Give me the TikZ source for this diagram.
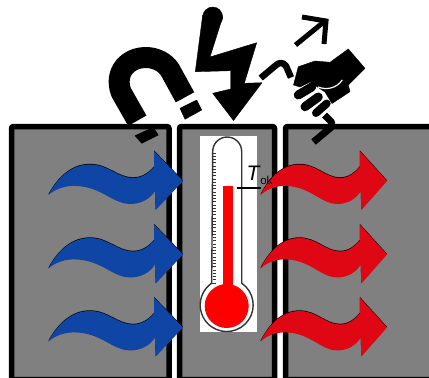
\documentclass[tikz,border=0pt]{standalone}
\usepackage{xcolor}
\usepackage{fontspec}
\setmainfont{Liberation Sans}
\usetikzlibrary{positioning}
\definecolor{panelgray}{HTML}{808080}
\definecolor{coldblue}{HTML}{0F45A5}
\definecolor{hotred}{HTML}{E00714}
\definecolor{meter}{HTML}{333333}
\definecolor{mercury}{HTML}{FF0000}
\newcommand{\wavefill}[1]{%
  \fill[#1] (48.3,195) .. controls (58,177) and (72,164.5) .. (90,164.5)
    .. controls (108,164.5) and (118,178) .. (133,178)
    .. controls (142,178) and (149,173) .. (154,167) -- (154,151) -- (183,181)
    -- (155.7,210) -- (155,191) .. controls (150,199) and (141,204) .. (130,204)
    .. controls (115,204) and (105,191) .. (85,187)
    .. controls (70,184) and (58,187) .. (48.3,195) -- cycle;}
\newcommand{\wave}[1]{%
  \begin{scope}[shift={(0,-0.7)}]\wavefill{black}\end{scope}
  \wavefill{#1}}
\begin{document}
\begin{tikzpicture}[
  x=1pt, y=-1pt,
  panel/.style={draw=black, fill=panelgray, line width=5.5pt, rounded corners=2pt,
                minimum height=253pt, anchor=north west, outer sep=0pt, inner sep=0pt},
  scale box/.style={fill=white, minimum width=57pt, minimum height=196pt,
                    anchor=north west, outer sep=0pt, inner sep=0pt},
  glass/.style={draw=meter, line width=1.4pt},
  tick/.style={draw=meter, line width=.6pt},
  level/.style={draw=black, line width=1.3pt},
  icon/.style={fill=black, draw=black, line join=round},
  stroke/.style={draw=black, line cap=butt, line join=round},
  finger/.style={draw=black, line width=9pt, line cap=round}
]
\useasboundingbox (0,0) rectangle (429,378);
% panels
\node[panel, minimum width=157.5pt] (coldside) at (11.5,126.5) {};
\node[panel, minimum width=95pt] (middle) at (179.5,126.5) {};
\node[panel, minimum width=150pt] (hotside) at (285.5,126.5) {};
% thermometer
\node[scale box] (meterbox) at (200,136) {};
\draw[glass] (212.7,151.5) arc[start angle=180, end angle=360, radius=14.5]
  -- (241.7,283.2) arc[start angle=-55.5, end angle=235.5, radius=26.5] -- cycle;
\foreach \i in {0,...,40} \draw[tick] (212.5,{153+3.25*\i}) -- ++(3,0);
\foreach \i in {0,...,8} \draw[tick] (211.5,{153+16.25*\i}) -- ++(4.5,0);
\fill[mercury] (223.3,186) rectangle (232.7,295);
\fill[mercury] (226.7,306) circle[radius=22];
% level mark
\coordinate (levelin) at (236.7,188);
\coordinate (levelout) at (261,188);
\draw[level] (levelin) -- (levelout);
% waves
\foreach \dy in {0,73.5,146.5} {
  \begin{scope}[shift={(0,\dy)}]\wave{coldblue}\end{scope}
  \begin{scope}[shift={(215,\dy)}, xscale=.94]\wave{hotred}\end{scope}
}
\node[anchor=base west, inner sep=0pt] (tok) at (246.5,180)
  {\fontsize{21}{21}\selectfont\textit{T}\kern-.5pt\raisebox{-4.5pt}{\fontsize{11.5}{12}\selectfont ok}};
% magnet
\draw[stroke, line width=21pt] (137.3,120.7) -- (121,92) .. controls (114,72) and (128,57) .. (147,57.5)
  .. controls (156,58) and (165,62) .. (170,70) -- (185,97.3);
\fill[icon] (135,135.7) -- (141.7,143.3) -- (158.3,135) -- (153.3,127.3) -- cycle;
\fill[icon] (180,108.3) -- (185,119.3) -- (201.7,110) -- (196.7,100) -- cycle;
% bolt
\fill[icon] (202.7,15) -- (195.3,71.7) -- (230.7,70.7) -- (230.7,89) -- (212.7,93.3) -- (233.5,120.5)
  -- (262,82.7) -- (244.3,83.3) -- (256.7,42.7) -- (210,57) -- (222.7,17) -- cycle;
\fill[icon] (212.7,17) circle[radius=10];
% hand and wire
\draw[stroke, line width=6.5pt] (260.7,78) -- (275,66) .. controls (279,62) and (283,62) .. (286,66) -- (291,77.5);
\draw[stroke, line width=7pt] (324.5,115) -- (331.5,122) -- (331.5,127) -- (313.5,142);
\fill[icon] (293.5,85) -- (298.3,66.7) -- (315,61) -- (330,62.3) -- (348.3,49) -- (365,68.3)
  -- (348.3,85) -- (350,91.7) -- (332,103.5) -- (325,92) -- (310,82) -- (300,87) -- cycle;
\draw[finger] (298.3,95) -- (311.7,87);
\draw[finger] (305,106.7) -- (318.3,97);
\draw[finger, line width=8pt] (316,113) -- (326.7,103.5);
\draw[white, line width=1.2pt] (318,87) .. controls (326,90) and (336,89) .. (342.3,80);
% pull arrow
\draw[stroke, line join=miter, line width=5pt] (302,17) -- (326,21) -- (324,44);
\draw[stroke, line width=5pt] (295.5,45) -- (325,21);
\end{tikzpicture}
\end{document}
